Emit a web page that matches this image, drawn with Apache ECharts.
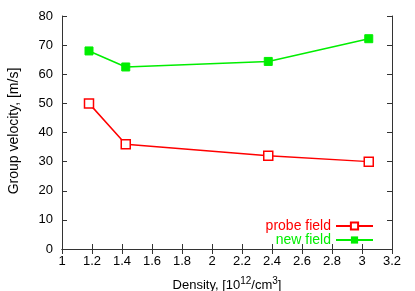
<!DOCTYPE html>
<html><head><meta charset="utf-8">
<script src="https://cdn.jsdelivr.net/npm/echarts@6/dist/echarts.min.js"></script>
<style>html,body{margin:0;padding:0;background:#fff}#c{width:415px;height:291px}</style>
</head><body><div id="c"></div>
<script>
const density = [1.18, 1.425, 2.375, 3.045];
const probeField = [50, 36, 32, 30];
const newField = [68, 62.5, 64.4, 72.2];
const xTicks = ['1','1.2','1.4','1.6','1.8','2','2.2','2.4','2.6','2.8','3','3.2'];
const yTicks = ['0','10','20','30','40','50','60','70','80'];

const font = 'Liberation Sans, Arial, sans-serif';
const tickStyle = {show:true, inside:true, length:5, lineStyle:{color:'#333', width:1}};
const lineAx = {show:true, lineStyle:{color:'#333', width:1}};
const chart = echarts.init(document.getElementById('c'));
chart.setOption({
  animation:false,
  grid:{left:62, right:23, top:16, bottom:42, containLabel:false, outerBoundsMode:'none'},
  graphic:[{
    type:'text', x:14, y:131, rotation:Math.PI/2,
    style:{text:'Group velocity, [m/s]', fontFamily:font, fontSize:14, fill:'#000', align:'center', verticalAlign:'middle'}
  }],
  legend:{
    orient:'vertical', right:36, bottom:39, align:'right',
    itemWidth:37, itemHeight:9, itemGap:0,
    textStyle:{fontFamily:font, fontSize:14},
    data:[
      {name:'probe field', textStyle:{color:'#ff0000'}},
      {name:'new field', textStyle:{color:'#00ee00'}}
    ]
  },
  xAxis:[{
    type:'value', min:1, max:3.2, interval:0.2,
    axisLine:lineAx, axisTick:tickStyle, splitLine:{show:false},
    axisLabel:{color:'#000', fontFamily:font, fontSize:13, margin:6,
      formatter:(v)=>xTicks[Math.round((v-1)/0.2)]},
    name:'{a|Density, [10}{s|12}{a|/cm}{s|3}{a|]}', nameLocation:'middle', nameGap:27,
    nameTextStyle:{rich:{a:{fontFamily:font, fontSize:13, color:'#000'}, s:{fontFamily:font, fontSize:10, color:'#000', verticalAlign:'top', padding:[0,0,8,0]}}}
  },{
    type:'value', min:1, max:3.2, interval:0.2, position:'top',
    axisLine:lineAx, axisTick:tickStyle, axisLabel:{show:false}, splitLine:{show:false}
  }],
  yAxis:[{
    type:'value', min:0, max:80, interval:10,
    axisLine:lineAx, axisTick:tickStyle, splitLine:{show:false},
    axisLabel:{color:'#000', fontFamily:font, fontSize:13, margin:9,
      formatter:(v)=>yTicks[Math.round(v/10)]}
  },{
    type:'value', min:0, max:80, interval:10, position:'right',
    axisLine:lineAx, axisTick:tickStyle, axisLabel:{show:false}, splitLine:{show:false}
  }],
  series:[{
    name:'probe field', type:'line',
    data:density.map((x,i)=>[x, probeField[i]]),
    symbol:'rect', symbolSize:9,
    lineStyle:{color:'#ff0000', width:1.5},
    itemStyle:{color:'#ffffff', borderColor:'#ff0000', borderWidth:1.5}
  },{
    name:'new field', type:'line',
    data:density.map((x,i)=>[x, newField[i]]),
    symbol:'rect', symbolSize:8,
    lineStyle:{color:'#00ee00', width:1.5},
    itemStyle:{color:'#00ee00', borderColor:'#00ee00'}
  }]
});
</script></body></html>
